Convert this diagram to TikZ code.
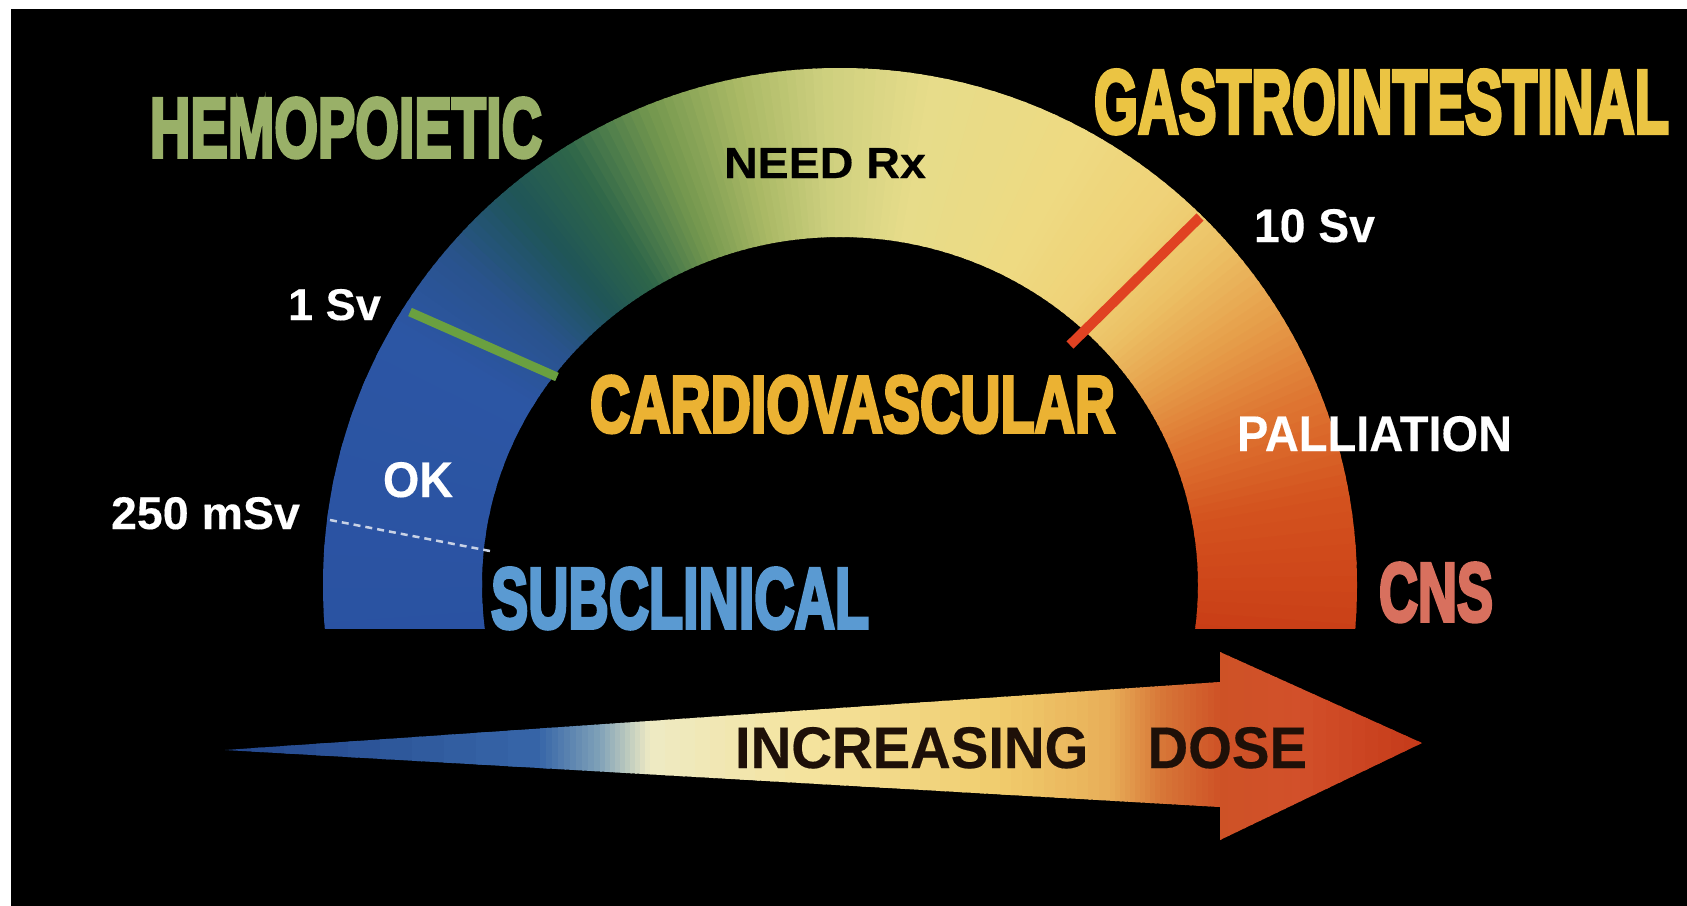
\documentclass[tikz,border=0pt]{standalone}
\usepackage{fontspec}
\usepackage{graphicx}
\newfontfamily\lblf{Liberation Sans Bold}[FakeBold=0.3]
\newfontfamily\bigf{Liberation Sans Bold}[FakeBold=4.5]
\newlength{\pxl}\setlength{\pxl}{0.01cm}
\newcommand{\fitto}[3]{\resizebox{#1\pxl}{#2\pxl}{#3}}
\definecolor{hemoC}{HTML}{99B068}
\definecolor{gastroC}{HTML}{EBC443}
\definecolor{cardioC}{HTML}{EBB233}
\definecolor{subC}{HTML}{5A9AD2}
\definecolor{cnsC}{HTML}{D8705E}
\definecolor{tickone}{HTML}{6AA040}
\definecolor{tickten}{HTML}{E04222}
\definecolor{dashC}{HTML}{C8D2E6}
\definecolor{arText}{HTML}{1E1008}
% band colour stops
\definecolor{b0}{HTML}{2A52A2}
\definecolor{b1}{HTML}{2C56A4}
\definecolor{b2}{HTML}{29538E}
\definecolor{b3}{HTML}{1F5558}
\definecolor{b4}{HTML}{2E6649}
\definecolor{b5}{HTML}{72964E}
\definecolor{b6}{HTML}{A8B864}
\definecolor{b7}{HTML}{CDCF7E}
\definecolor{b8}{HTML}{E6DC8A}
\definecolor{b9}{HTML}{EEDA82}
\definecolor{b10}{HTML}{EFD278}
\definecolor{b11}{HTML}{ECC266}
\definecolor{b12}{HTML}{E69E4A}
\definecolor{b13}{HTML}{DE7632}
\definecolor{b14}{HTML}{D4521E}
\definecolor{b15}{HTML}{C83C16}
% arrow colour stops
\definecolor{a0}{HTML}{23468C}
\definecolor{a1}{HTML}{3766A8}
\definecolor{a2}{HTML}{80A2B8}
\definecolor{a3}{HTML}{EEEAC4}
\definecolor{a4}{HTML}{F4E4A0}
\definecolor{a5}{HTML}{F0CC6C}
\definecolor{a6}{HTML}{E8AE58}
\definecolor{a7}{HTML}{D87838}
\definecolor{a8}{HTML}{CE5226}
\definecolor{a9}{HTML}{D2502A}
\definecolor{a10}{HTML}{C43818}
\newcommand{\bandseg}[4]{%
  \foreach \k in {0,...,9}{%
    \pgfmathsetmacro{\angA}{#1+(#2-#1)*\k/10}%
    \pgfmathsetmacro{\angB}{#1+(#2-#1)*(\k+1.3)/10}%
    \pgfmathsetmacro{\mixp}{95-10*\k}%
    \fill[#3!\mixp!#4] (0,0) -- ({700*cos(\angA)},{-700*sin(\angA)}) -- ({700*cos(\angB)},{-700*sin(\angB)}) -- cycle;
  }}
\newcommand{\arrseg}[4]{%
  \foreach \k in {0,...,9}{%
    \pgfmathsetmacro{\xA}{#1+(#2-#1)*\k/10}%
    \pgfmathsetmacro{\xB}{#1+(#2-#1)*(\k+1.3)/10}%
    \pgfmathsetmacro{\mixp}{95-10*\k}%
    \fill[#3!\mixp!#4] (\xA,600) rectangle (\xB,880);
  }}
\tikzset{lbl/.style={anchor=base west, inner sep=0pt, outer sep=0pt}}
\begin{document}
\begin{tikzpicture}[x=0.01cm,y=-0.01cm]
\useasboundingbox (0,0) rectangle (1687,905);
\fill[black] (-30,-30) rectangle (1730,940);
\fill[white] (-30,-30) rectangle (1730,9);
\fill[white] (-30,-30) rectangle (11,940);
% gauge band
\begin{scope}[shift={(840,585)}, even odd rule]
  \clip (-840,-585) rectangle (847,43);
  \clip (0,0) circle (517) (0,0) ellipse (358 and 348);
  \bandseg{188}{150}{b0}{b1}
  \bandseg{150}{140}{b1}{b2}
  \bandseg{140}{130}{b2}{b3}
  \bandseg{130}{122}{b3}{b4}
  \bandseg{122}{112}{b4}{b5}
  \bandseg{112}{102}{b5}{b6}
  \bandseg{102}{92}{b6}{b7}
  \bandseg{92}{80}{b7}{b8}
  \bandseg{80}{62}{b8}{b9}
  \bandseg{62}{50}{b9}{b10}
  \bandseg{50}{42}{b10}{b11}
  \bandseg{42}{32}{b11}{b12}
  \bandseg{32}{22}{b12}{b13}
  \bandseg{22}{10}{b13}{b14}
  \bandseg{10}{-8}{b14}{b15}
\end{scope}
% tick marks
\coordinate (g1) at (410,312); \coordinate (g2) at (557,377);
\coordinate (r1) at (1200,217); \coordinate (r2) at (1070,345);
\coordinate (d1) at (330,520); \coordinate (d2) at (490,551);
\draw[tickone, line width=0.09cm] (g1) -- (g2);
\draw[tickten, line width=0.1cm] (r1) -- (r2);
\draw[dashC, line width=0.025cm, dash pattern=on 0.07cm off 0.05cm] (d1) -- (d2);
% arrow
\begin{scope}
  \clip (225,750) -- (1220,682) -- (1220,652) -- (1422,743) -- (1220,840) -- (1220,807) -- cycle;
  \arrseg{220}{540}{a0}{a1}
  \arrseg{540}{600}{a1}{a2}
  \arrseg{600}{650}{a2}{a3}
  \arrseg{650}{800}{a3}{a4}
  \arrseg{800}{1000}{a4}{a5}
  \arrseg{1000}{1110}{a5}{a6}
  \arrseg{1110}{1160}{a6}{a7}
  \arrseg{1160}{1220}{a7}{a8}
  \arrseg{1220}{1300}{a8}{a9}
  \arrseg{1300}{1430}{a9}{a10}
\end{scope}
% labels
\node[lbl, text=hemoC] (hemo) at (150,157) {\fitto{392}{59}{\bigf HEMOPOIETIC}};
\node[lbl, text=gastroC] (gastro) at (1094,133) {\fitto{575}{63}{\bigf GASTROINTESTINAL}};
\node[lbl, text=black] (needrx) at (724,178) {\fitto{202}{30}{\lblf NEED Rx}};
\node[lbl, text=white] (tensv) at (1254,242) {\fitto{121}{33}{\lblf 10 Sv}};
\node[lbl, text=white] (onesv) at (288,320) {\fitto{93}{31}{\lblf 1 Sv}};
\node[lbl, text=white] (msv) at (111,529) {\fitto{189}{32}{\lblf 250 mSv}};
\node[lbl, text=white] (ok) at (383,497) {\fitto{70}{35}{\lblf OK}};
\node[lbl, text=white] (pall) at (1237,451) {\fitto{275}{35}{\lblf PALLIATION}};
\node[lbl, text=cardioC] (cardio) at (590,432) {\fitto{525}{56}{\bigf CARDIOVASCULAR}};
\node[lbl, text=subC] (subcl) at (491,628) {\fitto{378}{60}{\bigf SUBCLINICAL}};
\node[lbl, text=cnsC] (cns) at (1379,621) {\fitto{114}{58}{\bigf CNS}};
\node[lbl, text=arText] (dose) at (735,768) {\fitto{572}{41}{\lblf INCREASING\hspace{1.05em}DOSE}};
\end{tikzpicture}
\end{document}
